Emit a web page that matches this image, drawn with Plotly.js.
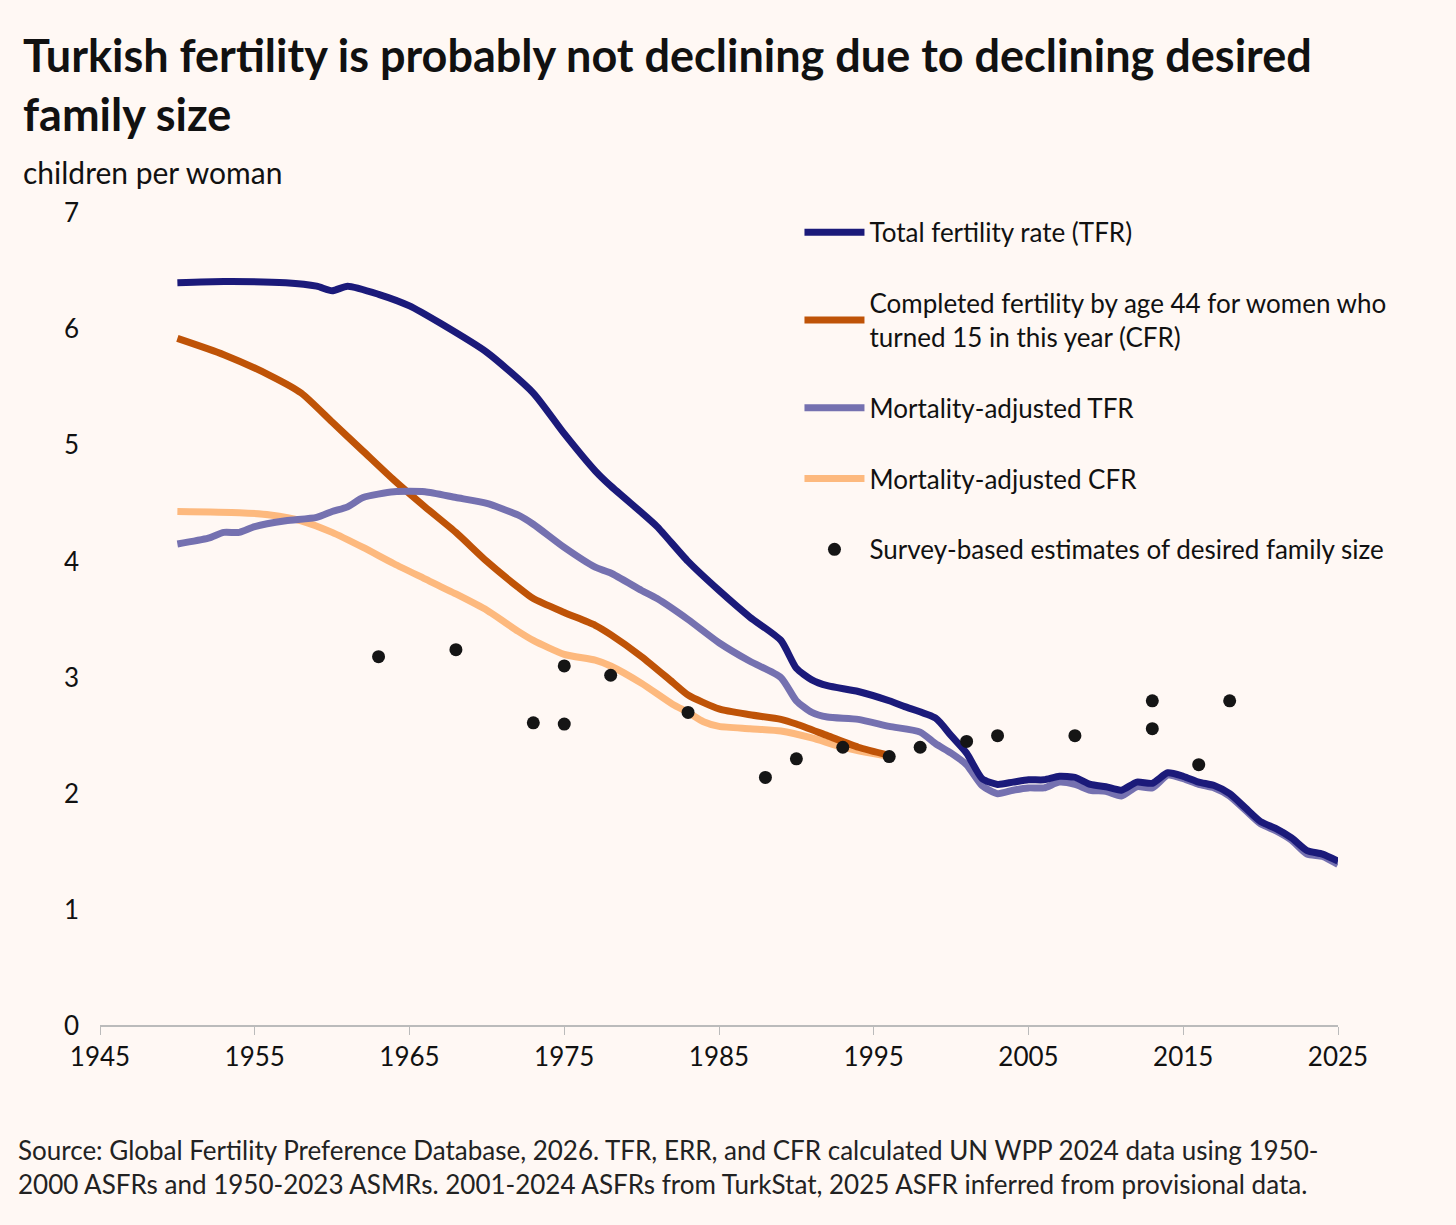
<!DOCTYPE html>
<html>
<head>
<meta charset="utf-8">
<script src="https://cdn.plot.ly/plotly-3.0.1.min.js"></script>
<style>body{margin:0;background:#fff8f4}</style>
</head>
<body>
<div id="chart" style="width:1456px;height:1225px"></div>
<script>
const tfrYears = [1950,1953,1957,1959,1960,1961,1963,1965,1967,1970,1973,1975,1977,1978,1980,1981,1983,1985,1987,1989,1990,1991,1992,1994,1996,1997,1999,2000,2001,2002,2003,2004,2005,2006,2007,2008,2009,2010,2011,2012,2013,2014,2015,2016,2017,2018,2019,2020,2021,2022,2023,2024,2025];
const tfr = [6.4,6.41,6.4,6.37,6.33,6.37,6.3,6.2,6.05,5.8,5.45,5.1,4.78,4.65,4.42,4.3,4.0,3.75,3.52,3.32,3.08,2.98,2.93,2.88,2.8,2.75,2.65,2.5,2.35,2.13,2.08,2.1,2.12,2.12,2.15,2.14,2.08,2.06,2.03,2.1,2.09,2.18,2.15,2.1,2.07,2.0,1.88,1.76,1.7,1.62,1.51,1.48,1.42];

const maTfrYears = [1950,1952,1953,1954,1955,1957,1959,1960,1961,1962,1964,1966,1968,1970,1972,1973,1975,1977,1978,1980,1981,1983,1985,1987,1989,1990,1991,1992,1994,1996,1998,1999,2000,2001,2002,2003,2004,2005,2006,2007,2008,2009,2010,2011,2012,2013,2014,2015,2016,2017,2018,2019,2020,2021,2022,2023,2024,2025];
const maTfr = [4.15,4.2,4.25,4.25,4.3,4.35,4.38,4.43,4.47,4.55,4.6,4.6,4.55,4.5,4.4,4.32,4.12,3.95,3.9,3.75,3.68,3.5,3.3,3.14,3.0,2.8,2.7,2.66,2.64,2.58,2.53,2.43,2.35,2.25,2.07,2.0,2.03,2.05,2.05,2.1,2.08,2.03,2.02,1.98,2.06,2.05,2.16,2.13,2.08,2.05,1.98,1.86,1.74,1.68,1.6,1.48,1.46,1.39];

const cfrYears = [1950,1953,1956,1958,1960,1962,1964,1966,1968,1970,1972,1973,1975,1977,1978,1980,1982,1983,1985,1987,1989,1990,1992,1994,1996];
const cfr = [5.92,5.78,5.6,5.45,5.2,4.95,4.7,4.47,4.25,4.0,3.78,3.68,3.56,3.45,3.37,3.18,2.96,2.85,2.73,2.68,2.64,2.6,2.5,2.4,2.33];

const maCfrYears = [1950,1954,1956,1958,1960,1962,1964,1966,1968,1970,1972,1973,1975,1977,1978,1980,1982,1983,1984,1985,1987,1989,1991,1993,1996];
const maCfr = [4.43,4.42,4.4,4.35,4.25,4.12,3.98,3.85,3.72,3.58,3.4,3.32,3.2,3.15,3.1,2.95,2.77,2.7,2.62,2.58,2.56,2.54,2.48,2.4,2.32];

const surveyYears = [1963,1968,1973,1975,1975,1978,1983,1988,1990,1993,1996,1998,2001,2003,2008,2013,2013,2016,2018];
const survey = [3.18,3.24,2.61,3.1,2.6,3.02,2.7,2.14,2.3,2.4,2.32,2.4,2.45,2.5,2.5,2.8,2.56,2.25,2.8];

const xTicks = [1945,1955,1965,1975,1985,1995,2005,2015,2025];

const line = (x, y, name, color, rank) => ({
  x: x, y: y, name: name, mode: 'lines', type: 'scatter',
  legendgroup: 'g' + rank, legendrank: rank,
  line: { color: color, width: 7, shape: 'spline', smoothing: 0.6 },
});

const data = [
  line(maCfrYears, maCfr, 'Mortality-adjusted CFR', '#fdb97e', 4),
  line(cfrYears, cfr, 'Completed fertility by age 44 for women who<br>turned 15 in this year (CFR)', '#bf5307', 2),
  line(maTfrYears, maTfr, 'Mortality-adjusted TFR', '#7571b0', 3),
  line(tfrYears, tfr, 'Total fertility rate (TFR)', '#1b1a7a', 1),
  {
    x: surveyYears, y: survey, name: 'Survey-based estimates of desired family size',
    mode: 'markers', type: 'scatter', legendgroup: 'g5', legendrank: 5,
    marker: { color: '#151515', size: 13 },
  },
];

const layout = {
  width: 1456,
  height: 1225,
  paper_bgcolor: '#fff8f4',
  plot_bgcolor: '#fff8f4',
  font: { family: 'Lato, sans-serif', size: 26, color: '#111' },
  margin: { l: 100, r: 118, t: 213, b: 199 },
  showlegend: true,
  legend: {
    x: 0.565, y: 1.005, xanchor: 'left', yanchor: 'top',
    traceorder: 'grouped',
    bgcolor: 'rgba(0,0,0,0)',
    font: { size: 26, color: '#111' },
    tracegroupgap: 34,
    itemwidth: 60,
  },
  xaxis: {
    range: [1945, 2025],
    tickvals: xTicks,
    ticks: 'outside', ticklen: 8, tickcolor: '#bbb',
    showgrid: false, zeroline: false,
    showline: false,
    tickfont: { size: 26, color: '#111' },
  },
  yaxis: {
    range: [0, 7],
    dtick: 1,
    showgrid: false, zeroline: true, zerolinecolor: '#bbb', zerolinewidth: 1.5,
    showline: false, ticks: '',
    ticklabelstandoff: 20,
    tickfont: { size: 26, color: '#111' },
  },
  annotations: [
    {
      xref: 'paper', yref: 'paper', x: -0.064, y: 1.23, xanchor: 'left', yanchor: 'top', align: 'left',
      showarrow: false,
      text: '<b>Turkish fertility is probably not declining due to declining desired<br>family size</b>',
      font: { size: 45, color: '#111' },
    },
    {
      xref: 'paper', yref: 'paper', x: -0.064, y: 1.075, xanchor: 'left', yanchor: 'top',
      showarrow: false, text: 'children per woman', font: { size: 30, color: '#111' },
    },
    {
      xref: 'paper', yref: 'paper', x: -0.068, y: -0.13, xanchor: 'left', yanchor: 'top', align: 'left',
      showarrow: false,
      text: 'Source: Global Fertility Preference Database, 2026. TFR, ERR, and CFR calculated UN WPP 2024 data using 1950-<br>2000 ASFRs and 1950-2023 ASMRs. 2001-2024 ASFRs from TurkStat, 2025 ASFR inferred from provisional data.',
      font: { size: 26, color: '#222' },
    },
  ],
};

Plotly.newPlot('chart', data, layout, { displayModeBar: false });
</script>
</body>
</html>
